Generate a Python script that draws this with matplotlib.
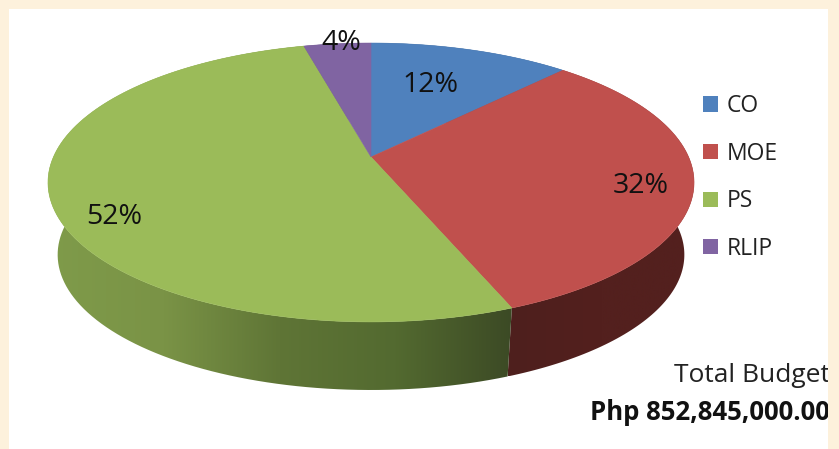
#!/usr/bin/env python3
import numpy as np
import matplotlib.pyplot as plt
from matplotlib.colors import LinearSegmentedColormap
from matplotlib.patches import Patch, Polygon, Rectangle

categories = ["CO", "MOE", "PS", "RLIP"]
values = [12, 32, 52, 4]
total_label = "Total Budget"
total_value = "Php 852,845,000.00"

colors = ["#4f81bd", "#c0504d", "#9bbb59", "#8064a2"]
wall_colors = {
    "CO": ["#2c4a70", "#2c4a70"],
    "MOE": ["#4e1f1d", "#53201e", "#53201e"],
    "PS": ["#7f9b4a", "#7a9346", "#5f7536", "#536a30", "#3c4a25"],
    "RLIP": ["#4a3a60", "#4a3a60"],
}
label_pos = [(430, 85), (641, 186), (114, 217), (341, 43)]

# pie projection, in pixels of the 839x449 picture
CX, CY = 371, 157
RX, RY = 317.6, 134.8
PERSP = 0.1827
DEPTH = 73
LOWER = 0.97


def rim(start, end, n=120):
    """Rim of the tilted disc between two clockwise fractions from the top."""
    t = np.linspace(start, end, n) * 2 * np.pi
    x, y = np.sin(t), np.cos(t)
    w = 1 + PERSP * y
    return CX + RX * x / w, CY - RY * y / w


def draw_wall(ax, start, end, cols):
    x, y = rim(start, end)
    xl = CX + LOWER * (x - CX)
    yl = CY + LOWER * (y - CY) + DEPTH
    pts = np.r_[np.c_[x, y], np.c_[xl, yl][::-1]]
    poly = Polygon(pts, closed=True, fc="none", ec="none", zorder=2)
    ax.add_patch(poly)
    cmap = LinearSegmentedColormap.from_list("wall", cols)
    x0, x1 = pts[:, 0].min(), pts[:, 0].max()
    im = ax.imshow(np.linspace(0, 1, 256)[None, :], cmap=cmap, aspect="auto",
                   extent=[x0, x1, pts[:, 1].max(), pts[:, 1].min()], zorder=2)
    im.set_clip_path(poly)


plt.rcParams["font.family"] = ["Open Sans", "DejaVu Sans"]
fig = plt.figure(figsize=(8.39, 4.49), dpi=100, facecolor="#fdf1dc")
ax = fig.add_axes([0, 0, 1, 1])
ax.set_facecolor("#fdf1dc")

ax.add_patch(Rectangle((9, 9), 819, 440, fc="white", ec="none", zorder=0))

bounds = np.r_[0, np.cumsum(values)] / np.sum(values)
for i, cat in enumerate(categories):
    draw_wall(ax, bounds[i], bounds[i + 1], wall_colors[cat])

for i, cat in enumerate(categories):
    x, y = rim(bounds[i], bounds[i + 1])
    pts = np.r_[[[CX, CY]], np.c_[x, y]]
    ax.add_patch(Polygon(pts, closed=True, fc=colors[i], ec=colors[i], lw=0.4, zorder=3))

for val, (lx, ly) in zip(values, label_pos):
    ax.text(lx, ly, f"{val}%", fontsize=20.5, ha="center", va="center",
            color="#111111", zorder=5)

ax.text(830, 376, total_label, fontsize=19, ha="right", va="center",
        color="#222222", zorder=5)
ax.text(830, 412, total_value, fontsize=18.5, ha="right", va="center",
        fontweight="bold", color="#111111", zorder=5)
# the panel edge cuts the text off on the right
ax.add_patch(Rectangle((828, 0), 11, 449, fc="#fdf1dc", ec="none", zorder=6))

handles = [Patch(fc=c, ec="none") for c in colors]
ax.legend(handles, categories, loc="upper left", bbox_to_anchor=(703 / 839, 1 - 94 / 449),
          frameon=False, fontsize=16.5, handlelength=0.65, handleheight=0.65,
          handletextpad=0.38, labelspacing=1.03, borderpad=0, borderaxespad=0,
          labelcolor="#222222")

ax.set_xlim(0, 839)
ax.set_ylim(449, 0)
ax.axis("off")

fig.savefig("out.png", dpi=100)
